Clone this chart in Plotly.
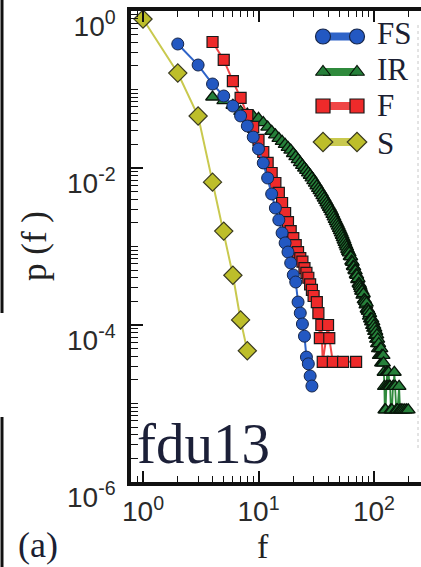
import plotly.graph_objects as go

# ---- data: frequency distributions p(f) for the fdu13 dataset ----
fs_f = [2, 3, 4, 5, 6, 7, 8, 9, 10, 11, 12, 13, 14, 15, 16, 17, 18, 19, 20,
        21, 22, 23, 24, 25, 26, 27, 28, 29]
fs_p = [0.380, 0.205, 0.1175, 0.0826, 0.0616, 0.0460, 0.0343, 0.0248, 0.0175,
        0.0116, 0.00746, 0.00467, 0.00309, 0.00218, 0.00149, 0.00111, 8.5e-4,
        6.17e-4, 4.34e-4, 3.53e-4, 1.96e-4, 1.42e-4, 1.03e-4, 7.2e-5, 3.9e-5,
        3.2e-5, 2.24e-5, 1.67e-5]

ir_f = [4, 5, 6, 7, 8, 9, 10, 11, 12, 13, 14, 15, 16, 17, 18, 19, 20, 21, 22,
        23, 24, 25, 26, 27, 28, 29, 30, 31, 32, 33, 34, 35, 36, 37, 38, 39, 40,
        41, 42, 43, 44, 45, 46, 47, 48, 49, 50, 51, 52, 53, 54, 55, 56, 57, 58,
        59, 60, 61, 62, 63, 64, 65, 66, 67, 68, 69, 70, 71, 72, 73, 74, 75, 76,
        77, 78, 79, 80, 81, 82, 83, 84, 85, 86, 87, 88, 89, 90, 91, 92, 93, 94,
        95, 96, 97, 98, 99, 100, 101, 102, 103, 104, 105, 106, 107, 108, 109,
        110, 111, 113, 114, 115, 116, 117, 118, 120, 121, 122, 123, 124, 126,
        128, 129, 130, 132, 134, 136, 138, 140, 143, 146, 148, 150, 153, 156,
        160, 165, 168, 172, 178, 185, 192, 198]
ir_p = [0.0802, 0.0720, 0.0630, 0.0525, 0.0485, 0.0458, 0.0428, 0.0378, 0.0332,
        0.0294, 0.0265, 0.0239, 0.0218, 0.0200, 0.0183, 0.0169, 0.0153, 0.0140,
        0.0128, 0.0117, 0.0108, 0.0100, 0.00931, 0.00867, 0.00809, 0.00750,
        0.00690, 0.00640, 0.00594, 0.00551, 0.00516, 0.00480, 0.00446, 0.00415,
        0.00386, 0.00361, 0.00337, 0.00316, 0.00297, 0.00277, 0.00257, 0.00239,
        0.00222, 0.00207, 0.00194, 0.00182, 0.00170, 0.00159, 0.00149, 0.00139,
        0.00130, 0.00121, 0.00113, 0.00105, 9.89e-4, 9.21e-4, 8.67e-4,
        8.3e-4, 7.5e-4, 7.4e-4, 6.5e-4, 6.3e-4, 5.6e-4, 5.5e-4, 5.0e-4, 4.9e-4,
        4.4e-4, 4.3e-4, 3.8e-4, 3.9e-4, 3.4e-4, 3.3e-4, 3.1e-4, 2.9e-4, 2.7e-4,
        2.7e-4, 2.4e-4, 2.5e-4, 2.1e-4, 2.1e-4, 2.0e-4, 1.8e-4, 1.9e-4, 1.6e-4,
        1.6e-4, 1.5e-4, 1.5e-4, 1.3e-4, 1.4e-4, 1.2e-4, 1.2e-4, 1.1e-4, 1.2e-4,
        9.9e-5, 1.1e-4, 9.1e-5, 9.9e-5, 8.3e-5, 9.1e-5, 7.4e-5, 8.3e-5, 6.6e-5,
        7.5e-5, 5.8e-5, 6.6e-5, 5.0e-5, 5.8e-5, 4.1e-5, 5.0e-5, 4.1e-5, 5.0e-5,
        3.3e-5, 4.1e-5, 3.3e-5, 4.1e-5, 3.3e-5, 2.5e-5, 1.65e-5, 8.3e-6,
        8.3e-6, 1.65e-5, 2.5e-5, 2.5e-5, 1.65e-5, 2.5e-5, 1.65e-5, 1.65e-5,
        8.3e-6, 8.3e-6, 1.65e-5, 1.65e-5, 2.5e-5, 1.65e-5, 8.3e-6, 8.3e-6,
        1.65e-5, 8.3e-6, 8.3e-6, 8.3e-6, 8.3e-6, 8.3e-6, 8.3e-6]

f_f = [4, 5, 6, 7, 8, 9, 10, 11, 12, 13, 14, 15, 16, 17, 18, 19, 20, 21, 22,
       23, 24, 25, 26, 27, 28, 29, 30, 32, 33, 34, 35, 36, 40, 41, 44, 54, 70]
f_p = [0.403, 0.238, 0.128, 0.078, 0.0473, 0.0333, 0.0228, 0.0160, 0.0116,
       0.00863, 0.00644, 0.00481, 0.00358, 0.00267, 0.00205, 0.00157, 0.00128,
       0.00104, 8.5e-4, 7.1e-4, 6.4e-4, 5.3e-4, 4.6e-4, 4.0e-4, 3.3e-4, 2.8e-4,
       2.34e-4, 1.96e-4, 1.42e-4, 6.8e-5, 1.0e-4, 3.4e-5, 1.0e-4, 6.8e-5,
       3.4e-5, 3.4e-5, 3.4e-5]

s_f = [1, 2, 3, 4, 5, 6, 7, 8]
s_p = [0.79, 0.162, 0.046, 0.0066, 0.00157, 4.3e-4, 1.16e-4, 4.7e-5]

series_names = ["FS", "IR", "F", "S"]

x_tickvals = [1, 10, 100]
x_ticktext = ["10<sup>0</sup>", "10<sup>1</sup>", "10<sup>2</sup>"]
y_tickvals = [1e-6, 1e-4, 1e-2, 1]
y_ticktext = ["10<sup>-6</sup>", "10<sup>-4</sup>", "10<sup>-2</sup>", "10<sup>0</sup>"]

# ---- styles ----
C_FS, C_IR, C_F, C_S = "#2358c2", "#26803a", "#ee2a2a", "#bdbe2a"
L_FS, L_IR, L_F, L_S = "#2e63c8", "#2f8a3c", "#f04646", "#c9c94e"
EDGE = "#1a1a1a"
SERIF = "Liberation Serif, DejaVu Serif, serif"
SANS = "Liberation Sans, Arial, sans-serif"

W, H = 421, 567
ML, MR, MT, MB = 131, 0, 11, 85
PW, PH = W - ML - MR, H - MT - MB


def px_x(x):
    return (x - ML) / PW


def px_y(y):
    return (H - MB - y) / PH


fig = go.Figure()

fig.add_trace(go.Scatter(
    x=ir_f, y=ir_p, mode="lines+markers", name="IR", showlegend=False,
    line=dict(color=L_IR, width=1.8),
    marker=dict(symbol="triangle-up", size=12, color=C_IR,
                line=dict(color="#08160a", width=1.3))))
fig.add_trace(go.Scatter(
    x=f_f, y=f_p, mode="lines+markers", name="F", showlegend=False,
    line=dict(color=L_F, width=2),
    marker=dict(symbol="square", size=11, color=C_F,
                line=dict(color=EDGE, width=1.2))))
fig.add_trace(go.Scatter(
    x=fs_f, y=fs_p, mode="lines+markers", name="FS", showlegend=False,
    line=dict(color=L_FS, width=2),
    marker=dict(symbol="circle", size=12, color=C_FS,
                line=dict(color="#16264a", width=1))))
fig.add_trace(go.Scatter(
    x=s_f, y=s_p, mode="lines+markers", name="S", showlegend=False,
    line=dict(color=L_S, width=2),
    marker=dict(symbol="diamond", size=14, color=C_S,
                line=dict(color="#3a3a20", width=1.2))))

# ---- legend drawn on an overlay axis: line with a marker at each end ----
legend_rows = [
    ("FS", C_FS, L_FS, "circle", 15, "#16264a", 36.5, 33),
    ("IR", C_IR, L_IR, "triangle-up", 13, "#08160a", 72, 70),
    ("F", C_F, L_F, "square", 14, EDGE, 106, 106),
    ("S", C_S, L_S, "diamond", 15, "#3a3a20", 142, 143),
]
for name, fill, lcol, sym, size, edge, ym, yt in legend_rows:
    fig.add_trace(go.Scatter(
        x=[px_x(323), px_x(357)], y=[px_y(ym), px_y(ym)],
        xaxis="x2", yaxis="y2", mode="lines+markers", showlegend=False,
        hoverinfo="skip",
        line=dict(color=lcol, width=8),
        marker=dict(symbol=sym, size=size, color=fill,
                    line=dict(color=edge, width=1.2))))

annotations = []
for name, fill, lcol, sym, size, edge, ym, yt in legend_rows:
    annotations.append(dict(
        text=name, xref="paper", yref="paper", x=px_x(375), y=px_y(yt),
        xanchor="left", yanchor="middle", showarrow=False,
        font=dict(family=SERIF, size=31, color="#1c1f33")))

annotations += [
    dict(text="fdu13", xref="paper", yref="paper", x=px_x(135), y=px_y(443),
         xanchor="left", yanchor="middle", showarrow=False,
         font=dict(family=SERIF, size=57, color="#1c2038")),
    dict(text="p (f )", xref="paper", yref="paper", x=px_x(34), y=px_y(246),
         xanchor="center", yanchor="middle", showarrow=False, textangle=-90,
         font=dict(family=SERIF, size=35, color="#222222")),
    dict(text="f", xref="paper", yref="paper", x=px_x(263), y=px_y(546),
         xanchor="center", yanchor="middle", showarrow=False,
         font=dict(family=SERIF, size=34, color="#222222")),
    dict(text="(a)", xref="paper", yref="paper", x=px_x(38), y=px_y(545),
         xanchor="center", yanchor="middle", showarrow=False,
         font=dict(family=SERIF, size=36, color="#1c1f33")),
]

shapes = [
    # edge of the neighbouring panel
    dict(type="line", xref="paper", yref="paper", x0=px_x(2), x1=px_x(2),
         y0=px_y(0), y1=px_y(313), line=dict(color="#111111", width=3)),
    dict(type="line", xref="paper", yref="paper", x0=px_x(2), x1=px_x(2),
         y0=px_y(417), y1=px_y(567), line=dict(color="#111111", width=3)),
    # faint dotted rule at the right edge
    dict(type="line", xref="paper", yref="paper", x0=px_x(418), x1=px_x(418),
         y0=px_y(25), y1=px_y(450), line=dict(color="#c8c8c8", width=1, dash="dot")),
]

fig.update_layout(
    width=W, height=H,
    margin=dict(l=ML, r=MR, t=MT, b=MB, pad=0),
    paper_bgcolor="white", plot_bgcolor="white",
    showlegend=False,
    annotations=annotations, shapes=shapes,
    xaxis=dict(
        type="log", range=[-0.104, 2.407],
        showgrid=False, zeroline=False,
        showline=True, linecolor="#111111", linewidth=3.5, mirror="allticks",
        ticks="inside", ticklen=11, tickwidth=1.6, tickcolor="#111111",
        tickmode="array", tickvals=x_tickvals, ticktext=x_ticktext,
        ticklabelstandoff=2,
        tickfont=dict(family=SANS, size=28, color="#2a2a2a"),
        minor=dict(ticks="inside", ticklen=6, tickwidth=1.3, tickcolor="#111111",
                   dtick="D1", showgrid=False),
    ),
    yaxis=dict(
        type="log", range=[-6.0, 0.0],
        showgrid=False, zeroline=False,
        showline=True, linecolor="#111111", linewidth=3.5, mirror=False,
        ticks="inside", ticklen=12, tickwidth=1.6, tickcolor="#111111",
        tickmode="array", tickvals=y_tickvals, ticktext=y_ticktext,
        ticklabelshift=15, ticklabelstandoff=6,
        tickfont=dict(family=SANS, size=28, color="#2a2a2a"),
        minor=dict(ticks="inside", ticklen=7, tickwidth=1.3, tickcolor="#111111",
                   dtick="D1", showgrid=False),
    ),
    xaxis2=dict(overlaying="x", range=[0, 1], visible=False, fixedrange=True),
    yaxis2=dict(overlaying="y", range=[0, 1], visible=False, fixedrange=True),
)

fig.write_html("out.html")
